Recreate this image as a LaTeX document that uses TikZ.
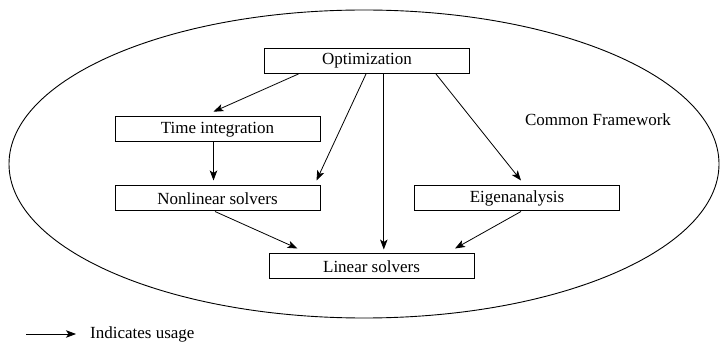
\documentclass[tikz,border=0pt]{standalone}
\usepackage{fontspec}
\setmainfont{Liberation Serif}
\usetikzlibrary{arrows.meta}
\begin{document}
\begin{tikzpicture}[x=1pt,y=-1pt,
  box/.style={draw,line width=1pt,rectangle,minimum width=205pt,minimum height=25pt,inner sep=0pt,font=\fontsize{17}{20}\selectfont},
  arr/.style={line width=0.8pt,-{Stealth[length=10pt,width=7.5pt,inset=2.5pt]}},
  lbl/.style={font=\fontsize{17}{20}\selectfont}]
\useasboundingbox (0,0) rectangle (720,344);
\draw[line width=0.9pt] (364,164) ellipse [x radius=355, y radius=154];
\node[box] (opt) at (367,61) {Optimization};
\node[box] (time) at (217.5,129.5) {Time integration};
\node[box] (nonlin) at (217.5,198.5) {Nonlinear solvers};
\node[box] (eigen) at (517,198.5) {Eigenanalysis};
\node[box] (lin) at (371.5,266.5) {Linear solvers};
\node[lbl] (cf) at (598,120) {Common Framework};
\draw[arr] ([xshift=-68.6pt]opt.south) -- ([xshift=-4pt,yshift=4.8pt]time.north);
\draw[arr] ([xshift=-1pt]opt.south) -- ([xshift=-4pt,yshift=5pt]nonlin.north east);
\draw[arr] ([xshift=16.8pt]opt.south) -- ([xshift=12.3pt,yshift=4pt]lin.north);
\draw[arr] ([xshift=69pt]opt.south) -- ([xshift=4pt,yshift=5pt]eigen.north);
\draw[arr] ([xshift=-4pt]time.south) -- ([xshift=-4pt,yshift=5pt]nonlin.north);
\draw[arr] ([xshift=-2.5pt]nonlin.south) -- ([xshift=29pt,yshift=5pt]lin.north west);
\draw[arr] ([xshift=4pt]eigen.south) -- ([xshift=-19.5pt,yshift=5pt]lin.north east);
\coordinate (legstart) at (26,334);
\node[lbl,anchor=west,inner sep=3pt] (leg) at (87,334) {Indicates usage};
\draw[arr] (legstart) -- ([xshift=-11pt]leg.west);
\end{tikzpicture}
\end{document}
